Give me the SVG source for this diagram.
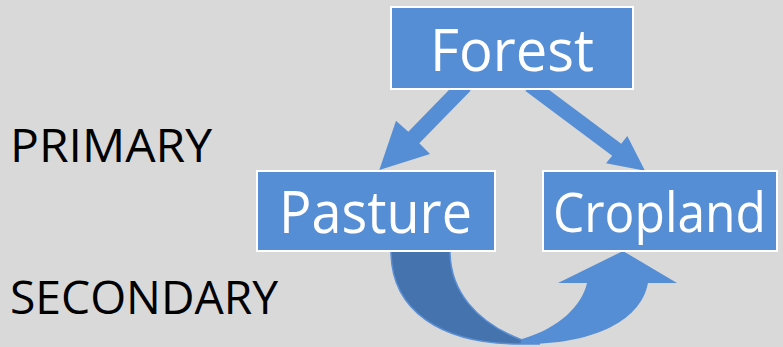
<svg xmlns="http://www.w3.org/2000/svg" width="783" height="347" viewBox="0 0 783 347">
<style>
.bg{fill:#d9d9d9}
.box{fill:#558ed5;stroke:#ffffff;stroke-width:2}
.lbl{font-family:"Open Sans","Noto Sans",sans-serif;font-size:58px;fill:#ffffff}
.side{font-family:"Open Sans","Noto Sans",sans-serif;font-size:46px;fill:#000000}
.arr{fill:#558ed5}
.back{fill:#4573ad;stroke:#5b8fd6;stroke-width:1.5}
</style>
<rect class="bg" x="0" y="0" width="783" height="347"/>
<text class="side" x="10" y="162" textLength="202" lengthAdjust="spacingAndGlyphs">PRIMARY</text>
<text class="side" x="10" y="314" textLength="268" lengthAdjust="spacingAndGlyphs">SECONDARY</text>
<g id="connectors">
<polygon class="arr" points="459.4,79.3 408.3,131.7 396,120.7 379.3,170 430,154 419.3,143.3 470.6,90.7"/>
<polygon class="arr" points="534.5,79 621.2,143.7 627.3,136 645,170.7 606,163.3 612.2,155.7 525.5,91"/>
<path class="back" d="M391,251 L450,251 C450,290 475,322 522,340 L540,344 L520,344 C440,344 391,310 391,251 Z"/>
<path class="arr" d="M520,344 C585,345 640,325 648,283 L677,283 L623,251 L558,283 L587,283 C582,305 560,328 522,339 Z"/>
</g>
<g id="forest">
<rect class="box" x="391" y="7" width="242" height="82"/>
<text class="lbl" x="430" y="71" textLength="164" lengthAdjust="spacingAndGlyphs">Forest</text>
</g>
<g id="pasture">
<rect class="box" x="257" y="171" width="238" height="80"/>
<text class="lbl" x="279" y="233" textLength="193" lengthAdjust="spacingAndGlyphs">Pasture</text>
</g>
<g id="cropland">
<rect class="box" x="543" y="171" width="234" height="80"/>
<text class="lbl" x="553" y="232" style="font-size:54px" textLength="213" lengthAdjust="spacingAndGlyphs">Cropland</text>
</g>
</svg>
